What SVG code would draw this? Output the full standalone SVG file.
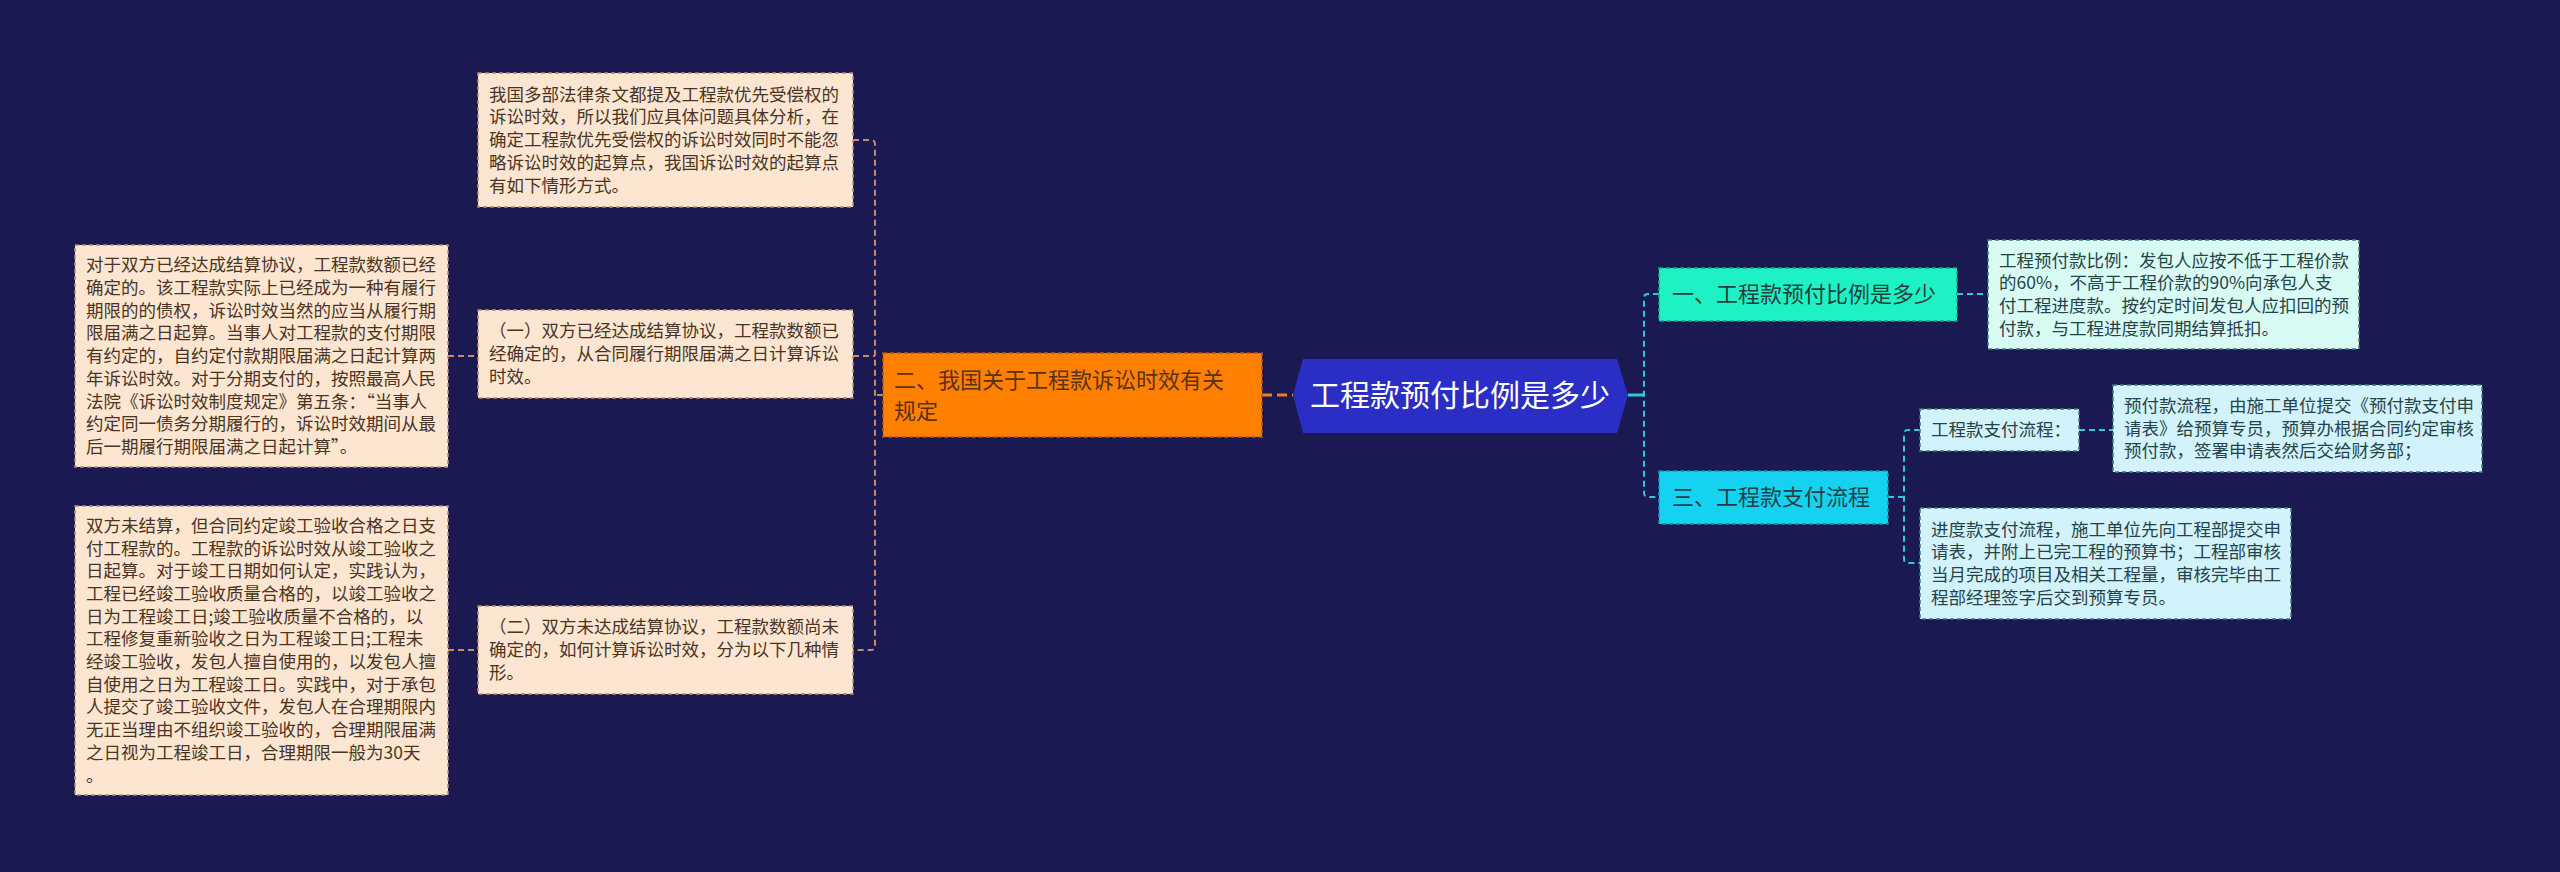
<svg xmlns="http://www.w3.org/2000/svg" width="2560" height="872" viewBox="0 0 2560 872">
<style>
text{font-family:"Noto Sans CJK SC","Noto Sans",sans-serif;}
.bg{fill:#1b1951;}
.peach{fill:#fde6d1;stroke:#b48c6c;stroke-width:1.5;stroke-dasharray:4 3;}
.ptxt{font-size:17.5px;fill:#4a3424;}
.mint{fill:#d8fcf3;stroke:#3f7c80;stroke-width:1.5;stroke-dasharray:4 3;}
.cyanbox{fill:#d2f3fb;stroke:#3f7c80;stroke-width:1.5;stroke-dasharray:4 3;}
.ctxt{font-size:17.5px;fill:#27434a;}
.lc{fill:none;stroke:#c98a67;stroke-width:2;stroke-dasharray:6 4;}
.rc{fill:none;stroke:#2fc8df;stroke-width:2;stroke-dasharray:6 4;}
</style>
<rect class="bg" x="0" y="0" width="2560" height="872"/>
<g id="connectors">
<path class="lc" d="M853,140 H871 Q875,140 875,144 V646 Q875,650 871,650 H853"/>
<path class="lc" d="M853,356 H875"/>
<path class="lc" d="M883,395 H875"/>
<path class="lc" d="M448,356 H478"/>
<path class="lc" d="M448,650 H478"/>
<path fill="none" stroke="#f07d1e" stroke-width="3" stroke-dasharray="10 5" d="M1262,395 H1293"/>
<path fill="none" stroke="#2fc8df" stroke-width="3" d="M1628,395 H1644"/>
<path class="rc" d="M1659,294 H1648 Q1644,294 1644,298 V493 Q1644,497 1648,497 H1659"/>
<path class="rc" d="M1957,294 H1988"/>
<path class="rc" d="M1888,497 H1904"/>
<path class="rc" d="M1920,430 H1908 Q1904,430 1904,434 V559 Q1904,563 1908,563 H1920"/>
<path class="rc" d="M2079,430 H2113"/>
</g>
<g id="root">
<polygon points="1293,395 1303,359 1617,359 1628,395 1617,433 1303,433" fill="#2a2ec4"/>
<text x="1460" y="406" font-size="30" fill="#ffffff" text-anchor="middle">工程款预付比例是多少</text>
</g>
<g id="n-law">
<rect x="883" y="353" width="379" height="84" fill="#ff7f00" stroke="#b35a00" stroke-width="1.5" stroke-dasharray="4 3"/>
<text font-size="22" fill="#5a3214"><tspan x="894" y="388">二、我国关于工程款诉讼时效有关</tspan><tspan x="894" y="419">规定</tspan></text>
</g>
<g id="n-top">
<rect class="peach" x="478" y="73" width="375" height="134"/>
<text class="ptxt"><tspan x="489" y="100.7">我国多部法律条文都提及工程款优先受偿权的</tspan><tspan x="489" y="123.4">诉讼时效，所以我们应具体问题具体分析，在</tspan><tspan x="489" y="146.1">确定工程款优先受偿权的诉讼时效同时不能忽</tspan><tspan x="489" y="168.8">略诉讼时效的起算点，我国诉讼时效的起算点</tspan><tspan x="489" y="191.5">有如下情形方式。</tspan></text>
</g>
<g id="n-one">
<rect class="peach" x="478" y="310" width="375" height="88"/>
<text class="ptxt"><tspan x="489" y="337.4">（一）双方已经达成结算协议，工程款数额已</tspan><tspan x="489" y="360.1">经确定的，从合同履行期限届满之日计算诉讼</tspan><tspan x="489" y="382.8">时效。</tspan></text>
</g>
<g id="n-one-detail">
<rect class="peach" x="75" y="245" width="373" height="222"/>
<text class="ptxt"><tspan x="86" y="271.3">对于双方已经达成结算协议，工程款数额已经</tspan><tspan x="86" y="294">确定的。该工程款实际上已经成为一种有履行</tspan><tspan x="86" y="316.7">期限的的债权，诉讼时效当然的应当从履行期</tspan><tspan x="86" y="339.4">限届满之日起算。当事人对工程款的支付期限</tspan><tspan x="86" y="362.1">有约定的，自约定付款期限届满之日起计算两</tspan><tspan x="86" y="384.8">年诉讼时效。对于分期支付的，按照最高人民</tspan><tspan x="86" y="407.5">法院《诉讼时效制度规定》第五条：“当事人</tspan><tspan x="86" y="430.2">约定同一债务分期履行的，诉讼时效期间从最</tspan><tspan x="86" y="452.9">后一期履行期限届满之日起计算”。</tspan></text>
</g>
<g id="n-two">
<rect class="peach" x="478" y="606" width="375" height="88"/>
<text class="ptxt"><tspan x="489" y="633.4">（二）双方未达成结算协议，工程款数额尚未</tspan><tspan x="489" y="656.1">确定的，如何计算诉讼时效，分为以下几种情</tspan><tspan x="489" y="678.8">形。</tspan></text>
</g>
<g id="n-two-detail">
<rect class="peach" x="75" y="506" width="373" height="289"/>
<text class="ptxt"><tspan x="86" y="531.8">双方未结算，但合同约定竣工验收合格之日支</tspan><tspan x="86" y="554.5">付工程款的。工程款的诉讼时效从竣工验收之</tspan><tspan x="86" y="577.2">日起算。对于竣工日期如何认定，实践认为，</tspan><tspan x="86" y="599.9">工程已经竣工验收质量合格的，以竣工验收之</tspan><tspan x="86" y="622.6">日为工程竣工日;竣工验收质量不合格的，以</tspan><tspan x="86" y="645.3">工程修复重新验收之日为工程竣工日;工程未</tspan><tspan x="86" y="668">经竣工验收，发包人擅自使用的，以发包人擅</tspan><tspan x="86" y="690.7">自使用之日为工程竣工日。实践中，对于承包</tspan><tspan x="86" y="713.4">人提交了竣工验收文件，发包人在合理期限内</tspan><tspan x="86" y="736.1">无正当理由不组织竣工验收的，合理期限届满</tspan><tspan x="86" y="758.8">之日视为工程竣工日，合理期限一般为30天</tspan><tspan x="86" y="781.5">。</tspan></text>
</g>
<g id="n-ratio">
<rect x="1659" y="268" width="298" height="53" fill="#1ef2c5" stroke="#13a98a" stroke-width="1.5" stroke-dasharray="4 3"/>
<text x="1672" y="302" font-size="22" fill="#233f3c">一、工程款预付比例是多少</text>
</g>
<g id="n-ratio-detail">
<rect class="mint" x="1988" y="240" width="371" height="109"/>
<text class="ctxt"><tspan x="1999" y="266.6">工程预付款比例：发包人应按不低于工程价款</tspan><tspan x="1999" y="289.3">的60%，不高于工程价款的90%向承包人支</tspan><tspan x="1999" y="312">付工程进度款。按约定时间发包人应扣回的预</tspan><tspan x="1999" y="334.7">付款，与工程进度款同期结算抵扣。</tspan></text>
</g>
<g id="n-flow">
<rect x="1659" y="471" width="229" height="53" fill="#14d2f0" stroke="#0e95aa" stroke-width="1.5" stroke-dasharray="4 3"/>
<text x="1672" y="505" font-size="22" fill="#233f48">三、工程款支付流程</text>
</g>
<g id="n-flow-label">
<rect class="cyanbox" x="1920" y="409" width="159" height="42"/>
<text class="ctxt" x="1931" y="436">工程款支付流程：</text>
</g>
<g id="n-prepay">
<rect class="cyanbox" x="2113" y="385" width="369" height="87"/>
<text class="ctxt"><tspan x="2124" y="411.9">预付款流程，由施工单位提交《预付款支付申</tspan><tspan x="2124" y="434.6">请表》给预算专员，预算办根据合同约定审核</tspan><tspan x="2124" y="457.3">预付款，签署申请表然后交给财务部；</tspan></text>
</g>
<g id="n-progress">
<rect class="cyanbox" x="1920" y="508" width="371" height="111"/>
<text class="ctxt"><tspan x="1931" y="535.6">进度款支付流程，施工单位先向工程部提交申</tspan><tspan x="1931" y="558.3">请表，并附上已完工程的预算书；工程部审核</tspan><tspan x="1931" y="581">当月完成的项目及相关工程量，审核完毕由工</tspan><tspan x="1931" y="603.7">程部经理签字后交到预算专员。</tspan></text>
</g>
</svg>
